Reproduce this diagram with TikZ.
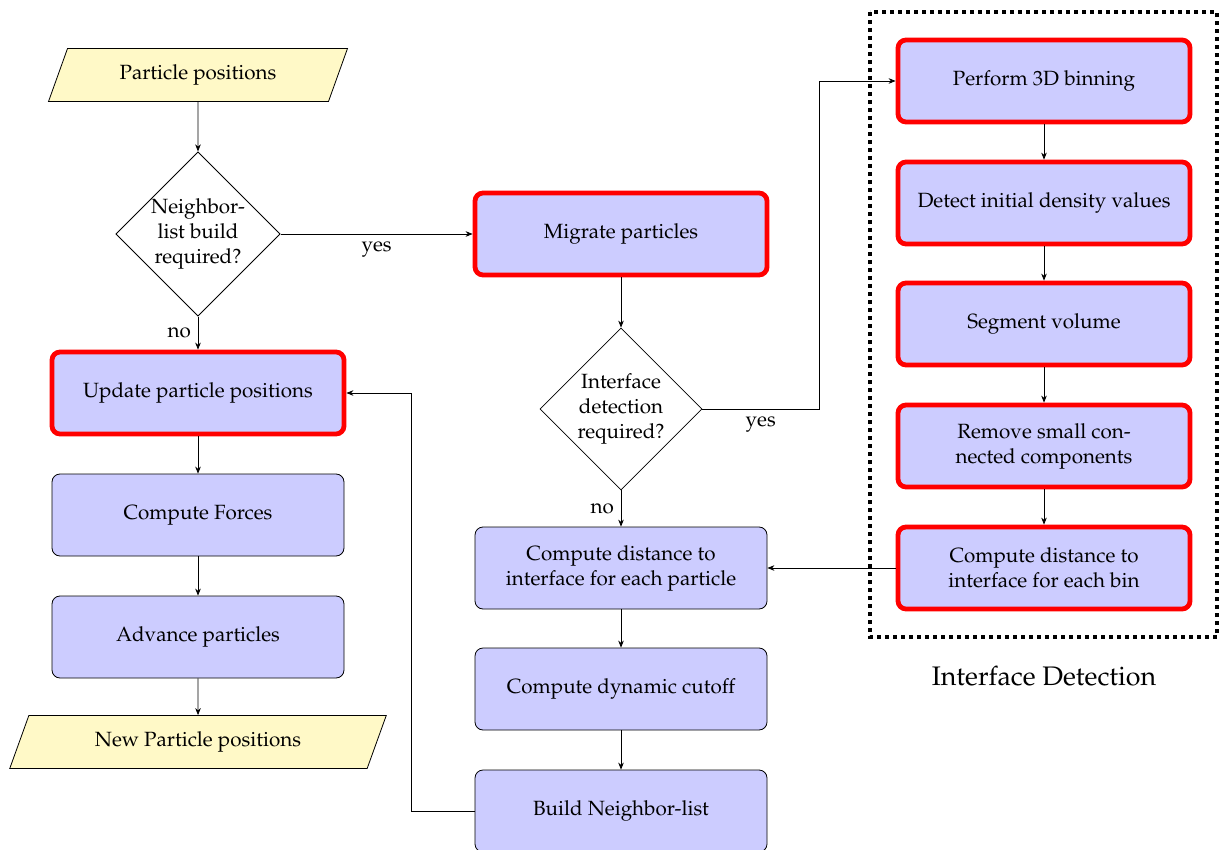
\documentclass[tikz,border=0pt]{standalone}
\usepackage[T1]{fontenc}
\usepackage{mathpazo}
\usetikzlibrary{shapes.geometric,arrows.meta}
\definecolor{boxblue}{RGB}{204,204,255}
\definecolor{ioyellow}{RGB}{255,249,199}
\begin{document}
\begin{tikzpicture}[x=0.5pt,y=-0.5pt,
  every node/.append style={font=\fontsize{10.3pt}{12.5pt}\selectfont},
  >={Stealth[length=3.5pt,width=2.8pt]},
  proc/.style={draw=black, fill=boxblue, rounded corners=4pt, minimum width=146pt, minimum height=41pt, align=center, inner sep=2pt},
  hl/.style={draw=red, line width=2.4pt},
  decision/.style={diamond, draw, aspect=1, minimum size=81pt, inner sep=0pt, align=center},
  io/.style={trapezium, trapezium left angle=70, trapezium right angle=110, trapezium stretches=true, draw, fill=ioyellow, minimum height=26.5pt},
  conn/.style={draw, ->}]
\useasboundingbox (0,0) rectangle (1220,850);
% left column
\node[io, minimum width=150.5pt] (in) at (198,75) {Particle positions};
\node[decision] (d1) at (198,234) {Neighbor-\\list build\\required?};
\node[proc, hl] (upd) at (198,393) {Update particle positions};
\node[proc] (forces) at (198,515) {Compute Forces};
\node[proc] (adv) at (198,637) {Advance particles};
\node[io, minimum width=188.5pt] (out) at (198,742) {New Particle positions};
% middle column
\node[proc, hl] (mig) at (621,234) {Migrate particles};
\node[decision] (d2) at (621,409) {Interface\\detection\\required?};
\node[proc] (distp) at (621,568) {Compute distance to\\interface for each particle};
\node[proc] (cut) at (621,689) {Compute dynamic cutoff};
\node[proc] (nbl) at (621,811) {Build Neighbor-list};
% right column
\node[proc, hl] (bin) at (1044,81) {Perform 3D binning};
\node[proc, hl] (dens) at (1044,203) {Detect initial density values};
\node[proc, hl] (seg) at (1044,324) {Segment volume};
\node[proc, hl] (rem) at (1044,446) {Remove small con-\\nected components};
\node[proc, hl] (distb) at (1044,568) {Compute distance to\\interface for each bin};
\draw[line width=2pt, dash pattern=on 2pt off 2pt] (870,12) rectangle (1217,637);
\node[font=\fontsize{13.4pt}{16pt}\selectfont] (idlabel) at (1044,676) {Interface Detection};
% connectors
\draw[conn] (in) -- (d1);
\draw[conn] (d1) -- node[left] {no} (upd);
\draw[conn] (d1) -- node[below] {yes} (mig);
\draw[conn] (upd) -- (forces);
\draw[conn] (forces) -- (adv);
\draw[conn] (adv) -- (out);
\draw[conn] (mig) -- (d2);
\draw[conn] (d2) -- node[left] {no} (distp);
\draw[conn] (d2.east) -- node[below] {yes} (819,409) |- (bin.west);
\draw[conn] (distp) -- (cut);
\draw[conn] (cut) -- (nbl);
\draw[conn] (nbl.west) -- (411,811) |- (upd.east);
\draw[conn] (bin) -- (dens);
\draw[conn] (dens) -- (seg);
\draw[conn] (seg) -- (rem);
\draw[conn] (rem) -- (distb);
\draw[conn] (distb.west) -- (distp.east);
\end{tikzpicture}
\end{document}
